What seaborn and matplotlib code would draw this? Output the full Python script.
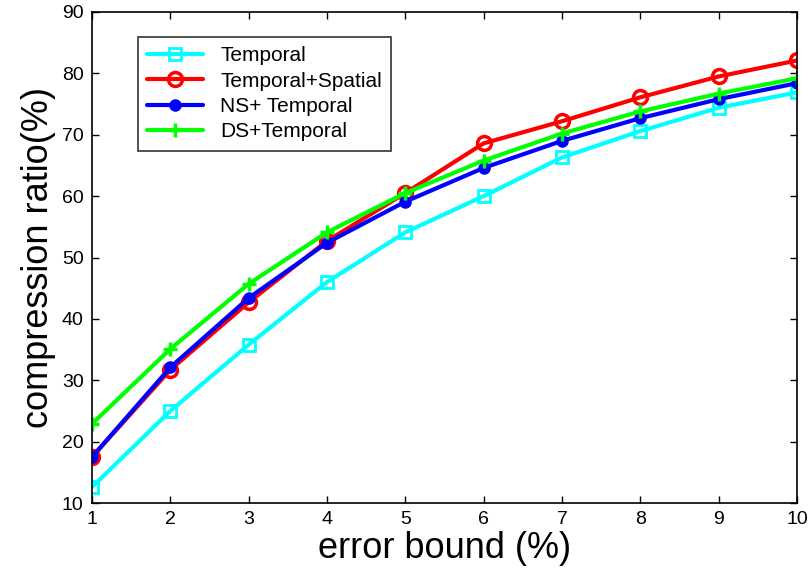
import numpy as np
import pandas as pd
import seaborn as sns
import matplotlib.pyplot as plt

error_bound = [1, 2, 3, 4, 5, 6, 7, 8, 9, 10]
temporal = [12.6, 25.0, 35.8, 46.0, 54.1, 60.0, 66.3, 70.6, 74.4, 76.9]
temporal_spatial = [17.5, 31.7, 42.7, 52.7, 60.5, 68.6, 72.2, 76.1, 79.5, 82.1]
ns_temporal = [17.5, 32.1, 43.4, 52.4, 59.1, 64.6, 69.0, 72.7, 75.8, 78.4]
ds_temporal = [22.9, 35.1, 45.7, 54.1, 60.5, 65.8, 70.2, 73.8, 76.7, 79.2]

sns.set_style("ticks")
plt.rcParams['font.family'] = ['Liberation Sans', 'DejaVu Sans']
plt.rcParams['text.color'] = 'black'
plt.rcParams['axes.labelcolor'] = 'black'
plt.rcParams['xtick.color'] = 'black'
plt.rcParams['ytick.color'] = 'black'
plt.rcParams['axes.edgecolor'] = 'black'

fig = plt.figure(figsize=(8.11, 5.78), dpi=100)
ax = fig.add_axes([92 / 811, 1 - 503 / 578, 705 / 811, 491 / 578])

series = [
	("Temporal", temporal, "#00ffff", dict(marker="s", mfc="none", ms=8, mew=2)),
	("Temporal+Spatial", temporal_spatial, "#ff0000", dict(marker="o", mfc="none", ms=10, mew=2.5)),
	("NS+ Temporal", ns_temporal, "#0000ff", dict(marker="o", ms=8, mew=1)),
	("DS+Temporal", ds_temporal, "#00ff00", dict(marker="+", ms=10, mew=2.5)),
]

for name, vals, col, mk in series:
	df = pd.DataFrame({"x": error_bound, "y": vals})
	sns.lineplot(data=df, x="x", y="y", color=col, lw=3, label=name, ax=ax,
		mec=col, **mk)

ax.set_xlim(1, 10)
ax.set_ylim(10, 90)
ax.set_xticks(range(1, 11))
ax.set_yticks(range(10, 91, 10))
ax.tick_params(direction="in", top=True, right=True, labelsize=14, length=5, width=1, pad=6)
for s in ax.spines.values():
	s.set_visible(True)
	s.set_linewidth(1.2)
ax.set_xlabel("error bound (%)", fontsize=26, labelpad=2)
ax.set_ylabel("compression ratio(%)", fontsize=26, labelpad=4)

leg = ax.legend(loc="upper left", bbox_to_anchor=(0.065, 0.949), borderaxespad=0,
	fontsize=15, frameon=True, fancybox=False, edgecolor="black", handlelength=2.7,
	borderpad=0.45, labelspacing=0.3)
leg.get_frame().set_linewidth(1.2)

fig.savefig("out.png", dpi=100)
